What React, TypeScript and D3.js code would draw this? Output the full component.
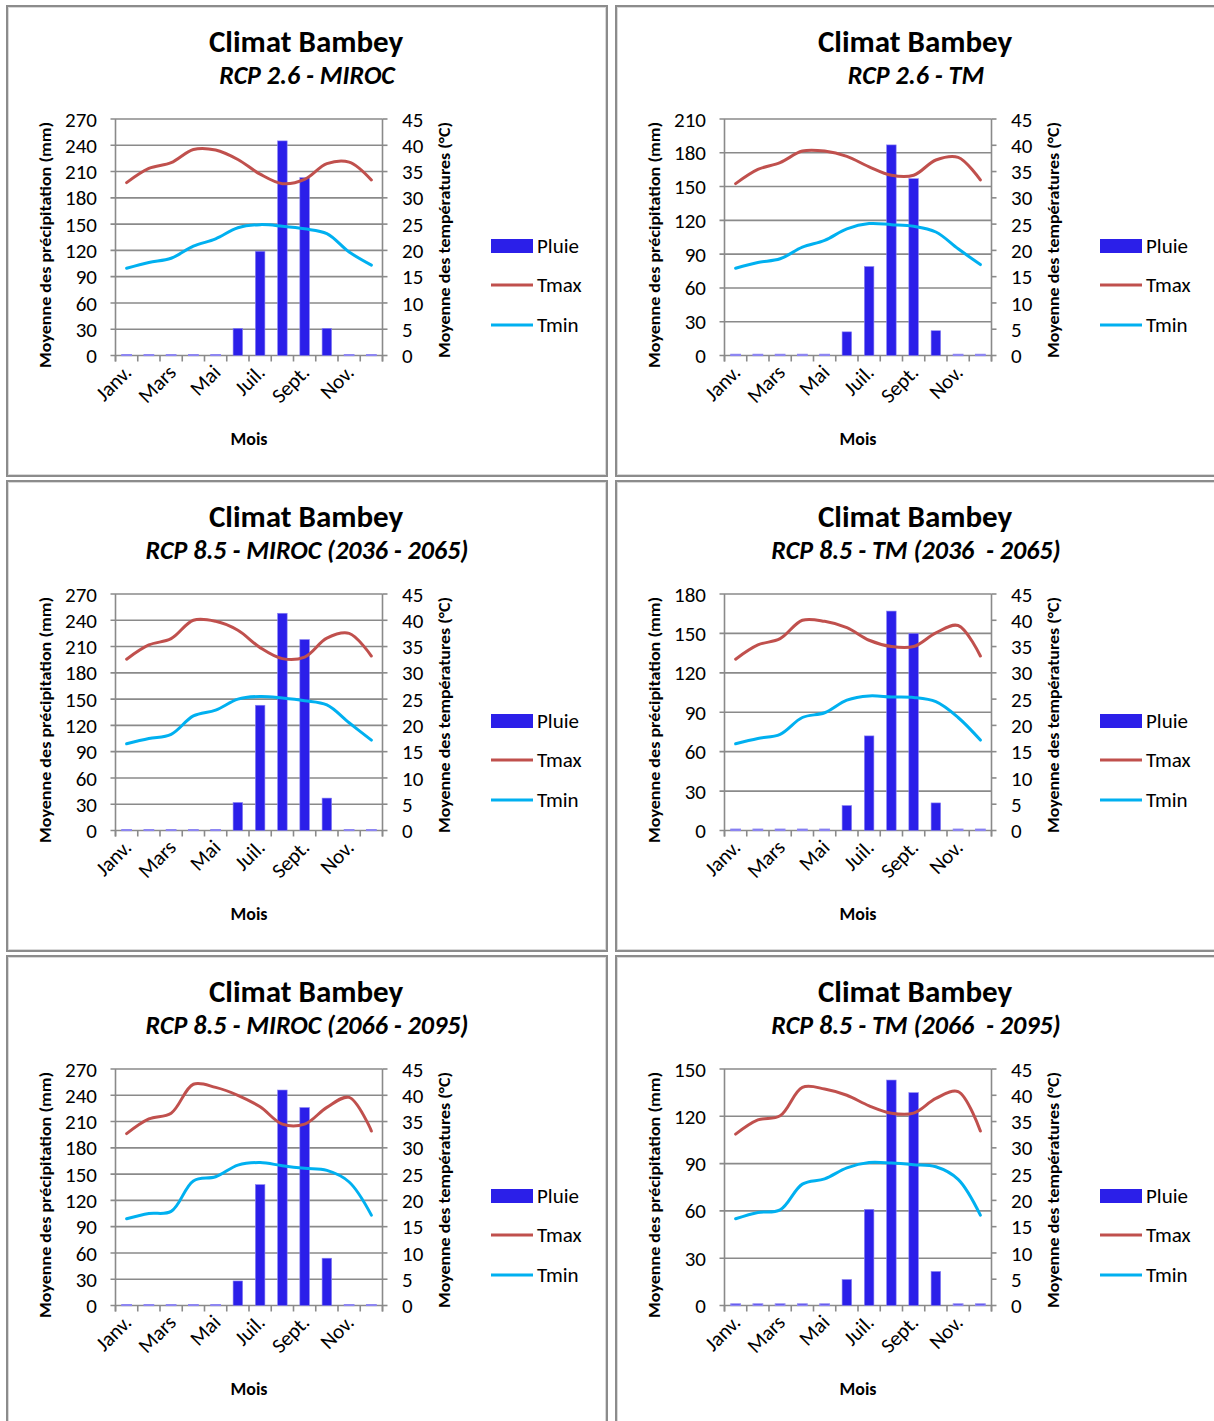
import React from "react";
import * as d3 from "d3";

const months = ["Janv.", "Févr.", "Mars", "Avr.", "Mai", "Juin", "Juil.", "Août", "Sept.", "Oct.", "Nov.", "Déc."];

const subtitles = [
  "RCP 2.6 - MIROC",
  "RCP 2.6 - TM",
  "RCP 8.5 - MIROC (2036 - 2065)",
  "RCP 8.5 - TM (2036  - 2065)",
  "RCP 8.5 - MIROC (2066 - 2095)",
  "RCP 8.5 - TM (2066  - 2095)",
];
const precipMax = [270, 210, 270, 180, 270, 150];

const pluie1 = [1, 1, 1, 1, 1, 31, 119, 245, 203, 31, 1, 1];
const pluie2 = [1, 1, 1, 1, 1, 21, 79, 187, 157, 22, 1, 1];
const pluie3 = [1, 1, 1, 1, 1, 32, 143, 248, 218, 37, 1, 1];
const pluie4 = [1, 1, 1, 1, 1, 19, 72, 167, 150, 21, 1, 1];
const pluie5 = [1, 1, 1, 1, 1, 28, 138, 246, 226, 54, 1, 1];
const pluie6 = [1, 1, 1, 1, 1, 16.5, 61, 143, 135, 21.6, 1, 1];

const tmax1 = [32.9, 35.6, 36.7, 39.2, 39.1, 37.3, 34.5, 32.7, 33.5, 36.5, 36.8, 33.4];
const tmax2 = [32.7, 35.4, 36.7, 38.9, 38.9, 37.9, 35.9, 34.3, 34.3, 37.2, 37.7, 33.4];
const tmax3 = [32.6, 35.3, 36.5, 40.0, 39.8, 38.1, 34.8, 32.7, 33.0, 36.6, 37.5, 33.2];
const tmax4 = [32.6, 35.3, 36.5, 40.0, 39.8, 38.6, 36.2, 35.0, 35.0, 37.6, 39.0, 33.2];
const tmax5 = [32.7, 35.5, 36.6, 42.1, 41.5, 40.0, 37.8, 34.5, 34.5, 37.7, 39.6, 33.2];
const tmax6 = [32.6, 35.3, 36.1, 41.5, 41.2, 40.0, 38.0, 36.6, 36.6, 39.4, 40.7, 33.2];

const tmin1 = [16.6, 17.7, 18.5, 20.8, 22.2, 24.3, 24.9, 24.6, 24.1, 23.2, 19.7, 17.2];
const tmin2 = [16.6, 17.7, 18.4, 20.6, 21.9, 24.1, 25.1, 24.9, 24.6, 23.5, 20.3, 17.3];
const tmin3 = [16.5, 17.5, 18.3, 21.8, 22.9, 25.0, 25.5, 25.2, 24.7, 23.9, 20.5, 17.2];
const tmin4 = [16.5, 17.5, 18.3, 21.5, 22.4, 24.8, 25.6, 25.4, 25.3, 24.5, 21.5, 17.2];
const tmin5 = [16.5, 17.5, 17.9, 23.7, 24.5, 26.7, 27.2, 26.6, 26.1, 25.7, 23.5, 17.2];
const tmin6 = [16.5, 17.7, 18.2, 23.1, 24.1, 26.2, 27.2, 27.1, 26.8, 26.4, 24.0, 17.2];

const pluieAll = [pluie1, pluie2, pluie3, pluie4, pluie5, pluie6];
const tmaxAll = [tmax1, tmax2, tmax3, tmax4, tmax5, tmax6];
const tminAll = [tmin1, tmin2, tmin3, tmin4, tmin5, tmin6];

const tempTicks = [0, 5, 10, 15, 20, 25, 30, 35, 40, 45];

const FONT = "Carlito, Lato, 'Open Sans', sans-serif";
const GRID = "#8a8a8a";
const BAR = "#2B1FE9";
const TMAX = "#C0504D";
const TMIN = "#00B0F0";

function Panel({ idx, ox, oy }: { idx: number; ox: number; oy: number }) {
  const left = 115.5, right = 382.5, top = 119, bottom = 355.5;
  const x = d3.scaleBand<string>().domain(months).range([left, right]).padding(0);
  const bw = x.bandwidth();
  const barW = bw * 0.43;
  const pMax = precipMax[idx];
  const yP = d3.scaleLinear().domain([0, pMax]).range([bottom, top]);
  const yT = d3.scaleLinear().domain([0, 45]).range([bottom, top]);
  const pTicks = d3.range(0, pMax + 1, 30);
  const cx = (m: string) => (x(m) as number) + bw / 2;
  const line = d3
    .line<number>()
    .x((_, i) => cx(months[i]))
    .y((d) => yT(d))
    .curve(d3.curveCatmullRom.alpha(0.5));
  const catEdges = d3.range(0, 13).map((i) => left + i * bw);

  return (
    <g transform={`translate(${ox},${oy})`}>
      <rect x={7} y={6} width={600} height={470} fill="#fff" stroke="#8c8c8c" strokeWidth={2} />
      <rect x={8.5} y={7.5} width={597} height={467} fill="none" stroke="#d9d9d9" strokeWidth={1} />
      <text x={306} y={52} textAnchor="middle" fontFamily={FONT} fontWeight="bold" fontSize={31} fill="#000">
        Climat Bambey
      </text>
      <text x={307} y={84} textAnchor="middle" fontFamily={FONT} fontWeight="bold" fontStyle="italic" fontSize={26} fill="#000" style={{ whiteSpace: "pre" }}>
        {subtitles[idx]}
      </text>

      {/* gridlines */}
      {pTicks.map((t) => (
        <line key={"g" + t} x1={left - 5} x2={right} y1={yP(t)} y2={yP(t)} stroke={GRID} strokeWidth={1.6} />
      ))}
      {/* left axis */}
      <line x1={left} x2={left} y1={top} y2={bottom + 6} stroke={GRID} strokeWidth={1.6} />
      {pTicks.map((t) => (
        <text key={"pl" + t} x={97} y={yP(t)} dy="0.36em" textAnchor="end" fontFamily={FONT} fontSize={21} fill="#000">
          {t}
        </text>
      ))}
      {/* right axis */}
      <line x1={right} x2={right} y1={top} y2={bottom + 6} stroke={GRID} strokeWidth={1.6} />
      {tempTicks.map((t) => (
        <g key={"tr" + t}>
          <line x1={right} x2={right + 5} y1={yT(t)} y2={yT(t)} stroke={GRID} strokeWidth={1.6} />
          <text x={402} y={yT(t)} dy="0.36em" textAnchor="start" fontFamily={FONT} fontSize={21} fill="#000">
            {t}
          </text>
        </g>
      ))}
      {/* category ticks */}
      {catEdges.map((e, i) => (
        <line key={"c" + i} x1={e} x2={e} y1={bottom} y2={bottom + 6} stroke={GRID} strokeWidth={1.6} />
      ))}

      {/* bars */}
      {pluieAll[idx].map((v, i) => {
        const h = bottom - yP(v);
        return (
          <rect
            key={"b" + i}
            x={cx(months[i]) - barW / 2}
            y={yP(v)}
            width={barW}
            height={h}
            fill={BAR}
            stroke="#8d86f2"
            strokeWidth={h < 3 ? 1.2 : 0.6}
          />
        );
      })}

      {/* lines */}
      <path d={line(tmaxAll[idx]) as string} fill="none" stroke={TMAX} strokeWidth={3} strokeLinecap="round" />
      <path d={line(tminAll[idx]) as string} fill="none" stroke={TMIN} strokeWidth={3} strokeLinecap="round" />

      {/* month labels */}
      {months.map((m, i) =>
        i % 2 === 0 ? (
          <text
            key={"m" + i}
            transform={`translate(${cx(m) + 1},${bottom + 13}) rotate(-45)`}
            textAnchor="end"
            dy="0.35em"
            fontFamily={FONT}
            fontSize={21}
            fill="#000"
          >
            {m}
          </text>
        ) : null
      )}

      <text x={249} y={445} textAnchor="middle" fontFamily={FONT} fontWeight="bold" fontSize={18} fill="#000">
        Mois
      </text>
      <text
        transform={`translate(51,245) rotate(-90)`}
        textAnchor="middle"
        fontFamily={FONT}
        fontWeight="bold"
        fontSize={16}
        fill="#000"
        textLength={246}
        lengthAdjust="spacingAndGlyphs"
      >
        Moyenne des précipitation (mm)
      </text>
      <text
        transform={`translate(450,240) rotate(-90)`}
        textAnchor="middle"
        fontFamily={FONT}
        fontWeight="bold"
        fontSize={16}
        fill="#000"
        textLength={236}
        lengthAdjust="spacingAndGlyphs"
      >
        Moyenne des températures (°C)
      </text>

      {/* legend */}
      <rect x={491} y={239} width={42} height={14} fill={BAR} />
      <text x={537} y={246} dy="0.35em" fontFamily={FONT} fontSize={21} fill="#000">Pluie</text>
      <line x1={491} x2={533} y1={285} y2={285} stroke={TMAX} strokeWidth={3} />
      <text x={537} y={285} dy="0.35em" fontFamily={FONT} fontSize={21} fill="#000">Tmax</text>
      <line x1={491} x2={533} y1={325} y2={325} stroke={TMIN} strokeWidth={3} />
      <text x={537} y={325} dy="0.35em" fontFamily={FONT} fontSize={21} fill="#000">Tmin</text>
    </g>
  );
}

export default function App() {
  const offsets = [
    [0, 0],
    [609, 0],
    [0, 475],
    [609, 475],
    [0, 950],
    [609, 950],
  ];
  return (
    <svg width={1214} height={1421} style={{ position: "absolute", left: 0, top: 0, background: "#fff" }}>
      <rect x={0} y={0} width={1214} height={1421} fill="#fff" />
      {offsets.map(([ox, oy], i) => (
        <Panel key={i} idx={i} ox={ox} oy={oy} />
      ))}
    </svg>
  );
}
